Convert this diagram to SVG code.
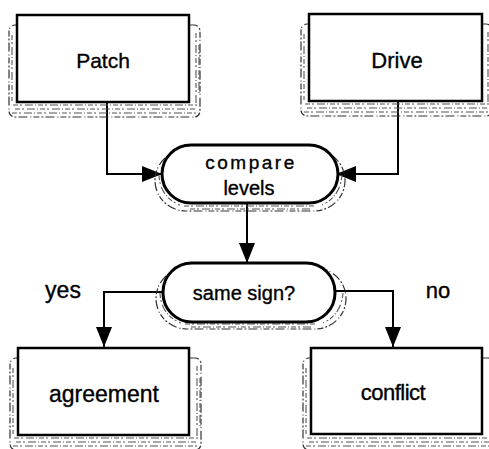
<svg xmlns="http://www.w3.org/2000/svg" width="489" height="449" viewBox="0 0 489 449">
  <style>
    .box { fill: #fff; stroke: #000; stroke-width: 2.5; }
    .pill { fill: #fff; stroke: #000; stroke-width: 3; }
    .shade { fill: none; stroke: #333; stroke-width: 1.2; stroke-dasharray: 6 2 1 3 9 2 2 2; }
    .grain { fill: none; stroke: #555; stroke-width: 1.1; stroke-dasharray: 5 2 2 3 8 2 1 2; }
    .lbl { font-family: "Liberation Sans", Arial, Helvetica, sans-serif; fill: #000; stroke: #000; stroke-width: 0.35; text-anchor: middle; }
    .wire { fill: none; stroke: #000; stroke-width: 2; marker-end: url(#head); }
  </style>
  <defs>
    <marker id="head" markerUnits="userSpaceOnUse" markerWidth="20" markerHeight="16" refX="20" refY="8" orient="auto" viewBox="0 0 20 16">
      <path d="M0,0 L20,8 L0,16 z" fill="#000"/>
    </marker>
    <!-- sketchy drop shade behind a 172x87 box -->
    <g id="boxShade">
      <rect class="shade" x="-8" y="10" width="191" height="92" rx="6"/>
      <path class="grain" d="M-4,90 H180 M-2,94 H178 M-5,98 H181"/>
      <path class="grain" d="M-5,20 V86 M179,18 V88 M182,30 V80"/>
    </g>
    <!-- sketchy drop shade behind a 176x58 pill -->
    <g id="pillShade">
      <rect class="shade" x="-7" y="5" width="190" height="61" rx="31"/>
      <path class="grain" d="M22,61 H154 M28,64 H150"/>
      <path class="grain" d="M-3,30 Q-2,52 18,60 M180,30 Q178,52 160,60"/>
    </g>
  </defs>

  <g id="connectors">
    <path class="wire" d="M107,102 V174 H162"/>
    <path class="wire" d="M398,101 V174 H336"/>
    <path class="wire" d="M247,203 V263"/>
    <path class="wire" d="M163,292 H104 V347"/>
    <path class="wire" d="M335,291 H393 V347"/>
  </g>

  <g id="patch">
    <use href="#boxShade" x="17" y="15"/>
    <rect class="box" x="17" y="15" width="172" height="87"/>
    <text class="lbl" x="103" y="68" font-size="21">Patch</text>
  </g>

  <g id="drive">
    <use href="#boxShade" x="309" y="14"/>
    <rect class="box" x="309" y="14" width="173" height="87"/>
    <text class="lbl" x="397" y="68" font-size="22">Drive</text>
  </g>

  <g id="compare">
    <use href="#pillShade" x="162" y="145"/>
    <rect class="pill" x="162" y="145" width="176" height="58" rx="29"/>
    <text class="lbl" x="251" y="169" font-size="19" letter-spacing="2.5">compare</text>
    <text class="lbl" x="249" y="195" font-size="20">levels</text>
  </g>

  <g id="same-sign">
    <use href="#pillShade" x="163" y="263"/>
    <rect class="pill" x="163" y="263" width="172" height="59" rx="29"/>
    <text class="lbl" x="244" y="300" font-size="20">same sign?</text>
  </g>

  <g id="edge-labels">
    <text class="lbl" x="63" y="298" font-size="23">yes</text>
    <text class="lbl" x="438" y="298" font-size="22">no</text>
  </g>

  <g id="agreement">
    <use href="#boxShade" x="18" y="348"/>
    <rect class="box" x="18" y="348" width="171" height="87"/>
    <text class="lbl" x="104" y="402" font-size="23">agreement</text>
  </g>

  <g id="conflict">
    <use href="#boxShade" x="311" y="348"/>
    <rect class="box" x="311" y="348" width="171" height="86"/>
    <text class="lbl" x="393" y="400" font-size="22" letter-spacing="-0.5">conflict</text>
  </g>
</svg>
